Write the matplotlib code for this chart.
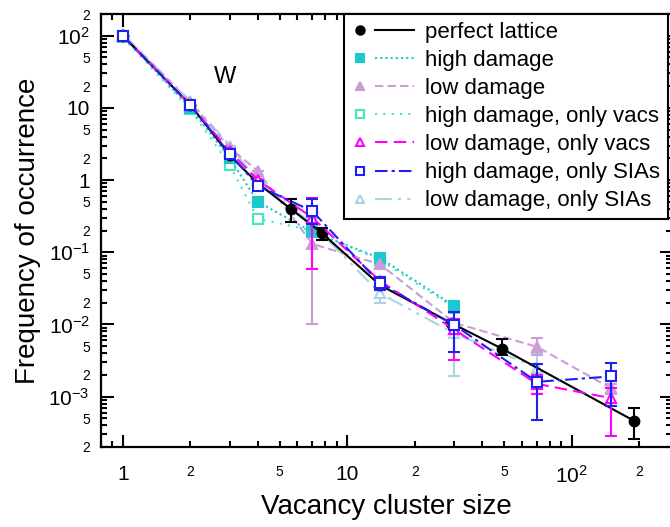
import numpy as np
import matplotlib
matplotlib.use('Agg')
import matplotlib.pyplot as plt
from matplotlib.lines import Line2D
from matplotlib.legend_handler import HandlerBase
from matplotlib.ticker import LogLocator, FuncFormatter

plt.rcParams['font.family'] = ['Liberation Sans', 'DejaVu Sans']
plt.rcParams['mathtext.fontset'] = 'custom'
plt.rcParams['mathtext.rm'] = 'Liberation Sans'
plt.rcParams['mathtext.it'] = 'Liberation Sans:italic'

# cluster size bins
x_perfect = [1, 2, 3, 4, 5.6, 7.7, 14, 29, 49, 190]
x_damage = [1, 2, 3, 4, 7, 14, 30, 70, 150]

# frequency of occurrence and lower/upper error bounds
y_perfect = [100, 11, 2.2, 0.9, 0.40, 0.185, 0.035, 0.0105, 0.0046, 0.00046]
lo_perfect = [100, 11, 2.2, 0.9, 0.26, 0.15, 0.035, 0.0105, 0.0038, 0.00026]
hi_perfect = [100, 11, 2.2, 0.9, 0.54, 0.22, 0.035, 0.0105, 0.0063, 0.00070]

y_high = [100, 10, 2.0, 0.50, 0.19, 0.083, 0.018]
lo_high = [100, 10, 2.0, 0.50, 0.17, 0.075, 0.015]
hi_high = [100, 10, 2.0, 0.50, 0.21, 0.092, 0.021]

y_low = [105, 12, 2.8, 1.33, 0.13, 0.068, 0.0105, 0.0049, 0.0013]
lo_low = [105, 12, 2.8, 1.33, 0.010, 0.060, 0.0090, 0.0038, 0.0011]
hi_low = [105, 12, 2.8, 1.33, 0.30, 0.076, 0.0120, 0.0064, 0.0015]

y_high_vac = [95, 9.5, 1.6, 0.29, 0.20, 0.078, 0.017]
lo_high_vac = [95, 9.5, 1.6, 0.29, 0.17, 0.070, 0.015]
hi_high_vac = [95, 9.5, 1.6, 0.29, 0.23, 0.088, 0.020]

y_low_vac = [100, 11, 2.5, 1.0, 0.30, 0.040, 0.0085, 0.0015, 0.00095]
lo_low_vac = [100, 11, 2.5, 1.0, 0.058, 0.034, 0.0032, 0.0011, 0.00028]
hi_low_vac = [100, 11, 2.5, 1.0, 0.56, 0.046, 0.0120, 0.0020, 0.0013]

y_high_sia = [100, 11, 2.3, 0.83, 0.37, 0.037, 0.0098, 0.0016, 0.0019]
lo_high_sia = [100, 11, 2.3, 0.83, 0.25, 0.030, 0.0042, 0.00047, 0.00073]
hi_high_sia = [100, 11, 2.3, 0.83, 0.54, 0.045, 0.0150, 0.0028, 0.0029]

y_low_sia = [105, 12.5, 3.0, 0.97, 0.245, 0.027, 0.0075, 0.0025]
lo_low_sia = [105, 12.5, 3.0, 0.97, 0.17, 0.020, 0.0019, 0.0011]
hi_low_sia = [105, 12.5, 3.0, 0.97, 0.35, 0.035, 0.0100, 0.0040]

labels = ['perfect lattice', 'high damage', 'low damage',
          'high damage, only vacs', 'low damage, only vacs',
          'high damage, only SIAs', 'low damage, only SIAs']

x_range = (0.8, 280)
y_range = (2e-4, 2e2)


class MarkerThenLine(HandlerBase):
    # legend entry: marker on the left, line sample to its right
    def create_artists(self, legend, orig_handle, xdescent, ydescent,
                       width, height, fontsize, trans):
        yc = height / 2 - ydescent
        x0 = -xdescent
        seg = Line2D([x0 + 0.36 * width, x0 + 0.97 * width], [yc, yc])
        seg.update_from(orig_handle)
        seg.set_marker('None')
        mk = Line2D([x0 + 0.12 * width], [yc])
        mk.update_from(orig_handle)
        mk.set_linestyle('None')
        mk.set_markersize(6)
        seg.set_transform(trans)
        mk.set_transform(trans)
        return [seg, mk]


fig = plt.figure(figsize=(6.7, 5.27), dpi=100)
ax = fig.add_axes([101 / 670, 80 / 527, 571 / 670, 433 / 527])


def draw(x, y, lo, hi, color, marker, filled, ls, z, label):
    y = np.array(y)
    err = [y - np.array(lo), np.array(hi) - y]
    c = ax.errorbar(x[:len(y)], y, yerr=err, color=color, ecolor=color,
                    marker=marker, markersize=7, markeredgewidth=1.5,
                    markerfacecolor=color if filled else 'white',
                    markeredgecolor=color, linestyle=ls, linewidth=1.5,
                    elinewidth=1.5, capsize=4, capthick=1.5, zorder=z,
                    label=label)
    return c[0]


h_lsia = draw(x_damage, y_low_sia, lo_low_sia, hi_low_sia, '#a8d4e4', '^', False,
              (0, (8, 3, 1.5, 3, 1.5, 3)), 3, labels[6])
h_hvac = draw(x_damage, y_high_vac, lo_high_vac, hi_high_vac, '#44e8bc', 's', False,
              (0, (1, 3)), 3, labels[3])
h_high = draw(x_damage, y_high, lo_high, hi_high, '#1cc8cc', 's', True,
              (0, (1, 1.5)), 3, labels[1])
h_low = draw(x_damage, y_low, lo_low, hi_low, '#cc9cd8', '^', True,
             (0, (4, 2)), 3, labels[2])
h_perf = draw(x_perfect, y_perfect, lo_perfect, hi_perfect, 'black', 'o', True,
              '-', 4, labels[0])
h_lvac = draw(x_damage, y_low_vac, lo_low_vac, hi_low_vac, '#ff00ff', '^', False,
              (0, (6, 3)), 5, labels[4])
h_hsia = draw(x_damage, y_high_sia, lo_high_sia, hi_high_sia, '#2020ee', 's', False,
              (0, (6, 2, 1.5, 2)), 6, labels[5])

ax.set_xscale('log')
ax.set_yscale('log')
ax.set_xlim(*x_range)
ax.set_ylim(*y_range)


def inside(v, lims):
    return lims[0] * 0.999 <= v <= lims[1] * 1.001


def major_fmt_for(lims):
    def fmt(v, pos):
        if not inside(v, lims):
            return ''
        e = int(round(np.log10(v)))
        if e == 0:
            return '1'
        if e == 1:
            return '10'
        return r'$10^{%d}$' % e
    return fmt


def minor_fmt_for(lims):
    # label only the 2s and 5s that fall inside the axis range
    def fmt(v, pos):
        if not inside(v, lims):
            return ''
        m = int(round(v / 10 ** np.floor(np.log10(v) + 1e-9)))
        return str(m) if m in (2, 5) else ''
    return fmt


for axis, lims in ((ax.xaxis, x_range), (ax.yaxis, y_range)):
    axis.set_major_locator(LogLocator(base=10, numticks=20))
    axis.set_minor_locator(LogLocator(base=10, subs=np.arange(2, 10), numticks=20))
    axis.set_major_formatter(FuncFormatter(major_fmt_for(lims)))
    axis.set_minor_formatter(FuncFormatter(minor_fmt_for(lims)))

ax.tick_params(which='both', direction='in', top=True, right=True, width=1.5)
ax.tick_params(which='major', length=9, labelsize=15)
ax.tick_params(which='minor', length=4.5, labelsize=10)
ax.tick_params(axis='x', which='both', pad=13)
ax.tick_params(axis='y', which='both', pad=8)
for s in ax.spines.values():
    s.set_linewidth(1.6)

ax.set_xlabel('Vacancy cluster size', fontsize=20)
ax.set_ylabel('Frequency of occurrence', fontsize=20)
ax.xaxis.set_label_coords(0.5, -0.108)
ax.yaxis.set_label_coords(-0.105, 0.5)

ax.text(2.85, 27, 'W', fontsize=17, ha='center', va='center')

handles = [h_perf, h_high, h_low, h_hvac, h_lvac, h_hsia, h_lsia]
leg = ax.legend(handles, labels, loc='upper right',
                bbox_to_anchor=(668 / 670, 1 - 14 / 527),
                bbox_transform=fig.transFigure, borderaxespad=0,
                fontsize=16, handlelength=2.9, handletextpad=0.4,
                borderpad=0.35, labelspacing=0.32, fancybox=False,
                edgecolor='black', framealpha=1,
                handler_map={Line2D: MarkerThenLine()})
leg.get_frame().set_linewidth(1.5)
leg.set_zorder(10)

fig.savefig('out.png', dpi=100)
